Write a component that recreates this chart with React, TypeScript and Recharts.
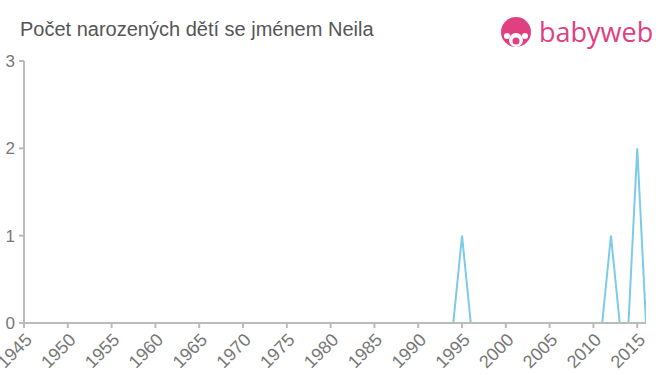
import React from "react";
import { LineChart, Line, XAxis, YAxis } from "recharts";

// roky 1945–2016
const years: number[] = Array.from({ length: 72 }, (_, i) => 1945 + i);
// počet narozených (nenulové jen 1995, 2012, 2015)
const counts: number[] = years.map((y) =>
  y === 1995 ? 1 : y === 2012 ? 1 : y === 2015 ? 2 : 0,
);
const xTicks = [
  1945, 1950, 1955, 1960, 1965, 1970, 1975, 1980, 1985, 1990, 1995, 2000,
  2005, 2010, 2015,
];
const yTicks = [0, 1, 2, 3];

const chartData = years.map((year, i) => ({ year, count: counts[i] }));

const Logo: React.FC = () => (
  <svg
    width={160}
    height={40}
    style={{ position: "absolute", left: 498, top: 13 }}
  >
    <circle cx={18} cy={19} r={15} fill="#e0407f" />
    <circle cx={18} cy={27} r={7} fill="#fff" />
    <circle cx={9} cy={23} r={3} fill="#fff" />
    <circle cx={27} cy={23} r={3} fill="#fff" />
    <circle cx={18} cy={28} r={3.5} fill="#e0407f" />
    <text
      x={41}
      y={29}
      fontSize={27}
      fill="#e0407f"
      fontFamily="'Open Sans', 'DejaVu Sans', sans-serif"
    >
      babyweb
    </text>
  </svg>
);

const App: React.FC = () => {
  return (
    <div
      style={{
        position: "absolute",
        left: 0,
        top: 0,
        width: 660,
        height: 375,
        background: "#fff",
        fontFamily: "'Liberation Sans', Arial, sans-serif",
      }}
    >
      <div
        style={{
          position: "absolute",
          left: 20,
          top: 18,
          fontSize: 20,
          color: "#555",
        }}
      >
        Počet narozených dětí se jménem Neila
      </div>
      <Logo />
      <LineChart
        width={660}
        height={375}
        data={chartData}
        margin={{ top: 61, right: 14, left: 0, bottom: 2 }}
      >
        <XAxis
          dataKey="year"
          type="number"
          domain={[1945, 2016]}
          ticks={xTicks}
          interval={0}
          angle={-45}
          textAnchor="end"
          height={50}
          tickSize={5}
          tickMargin={4}
          tick={{ fill: "#777", fontSize: 18 }}
          stroke="#bbb"
          strokeWidth={2}
          allowDataOverflow
        />
        <YAxis
          domain={[0, 3]}
          ticks={yTicks}
          width={24}
          tickSize={5}
          tickMargin={4}
          tick={{ fill: "#777", fontSize: 17 }}
          stroke="#bbb"
          strokeWidth={2}
        />
        <Line
          type="linear"
          dataKey="count"
          stroke="#7ccbea"
          strokeWidth={2}
          dot={false}
          isAnimationActive={false}
        />
      </LineChart>
    </div>
  );
};

export default App;
